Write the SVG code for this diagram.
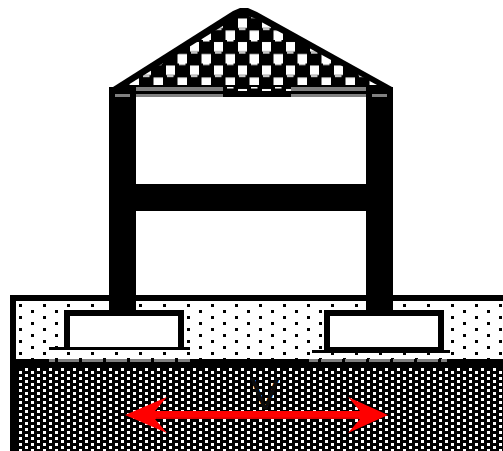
<svg xmlns="http://www.w3.org/2000/svg" width="503" height="451" viewBox="0 0 503 451">
<style>
.k{fill:#000}.g{fill:#808080}.w{fill:#fff}.r{fill:#f00}
</style>
<defs>
<pattern id="sand" patternUnits="userSpaceOnUse" x="19" y="304" width="24" height="12">
<rect width="3" height="3" fill="#000"/><rect x="12" y="6" width="3" height="3" fill="#000"/>
</pattern>
<pattern id="rock" patternUnits="userSpaceOnUse" x="19" y="368" width="12" height="6">
<rect x="6" y="0" width="3" height="3" fill="#fff"/><rect x="0" y="3" width="3" height="3" fill="#fff"/>
</pattern>
<pattern id="roofp" patternUnits="userSpaceOnUse" x="214" y="40" width="24" height="23.5">
<rect width="24" height="23.5" fill="#000"/>
<rect x="-0.500" y="2" width="9.500" height="9.500" fill="#fff"/>
<rect x="11.500" y="14" width="9.500" height="9.500" fill="#fff"/>
<rect x="13" y="0" width="6.500" height="1.500" fill="#fff"/>
<rect x="1" y="12" width="6.500" height="1.500" fill="#fff"/>
</pattern>
</defs>
<g id="ground">
<rect x="10" y="295" width="493" height="156" class="k"/>
<rect x="16" y="301" width="487" height="58" class="w"/>
<rect x="16" y="301" width="487" height="58" fill="url(#sand)"/>
<rect x="16" y="368" width="487" height="83" fill="url(#rock)"/>
<path class="g" d="M49 359h6v3h-6zM58 359h21v3h-21zM82 359h21v3h-21zM106 359h21v3h-21zM130 359h21v3h-21zM154 359h21v3h-21zM178 359h12v3h-12zM309 359h9v3h-9zM321 359h21v3h-21zM345 359h21v3h-21zM369 359h21v3h-21zM393 359h21v3h-21zM417 359h21v3h-21zM441 359h6v3h-6z"/>
</g>
<g id="left-footing">
<rect x="64" y="310" width="120" height="40" class="k"/>
<rect x="70" y="316" width="108" height="31" class="w"/>
<rect x="49" y="347" width="141" height="3" class="k"/>
</g>
<g id="right-footing">
<rect x="324" y="310" width="120" height="40" class="k"/>
<rect x="330" y="316" width="108" height="31" class="w"/>
<rect x="312" y="350" width="138" height="3" class="k"/>
</g>
<g id="frame">
<rect x="109" y="87" width="27" height="225" class="k"/>
<rect x="366" y="87" width="27" height="225" class="k"/>
<rect x="136" y="184" width="230" height="27" class="k"/>
<rect x="115" y="94" width="15" height="3" class="g"/>
<rect x="372" y="94" width="15" height="3" class="g"/>
</g>
<g id="roof">
<polygon points="113,87 233,11 240,8 248,8 257,12 392,87" class="k"/>
<polygon points="128,85 234,19 244,15 254,18 377,85" fill="url(#roofp)"/>
<rect x="136" y="87" width="87" height="10" class="k"/>
<rect x="136" y="87" width="87" height="4" class="g"/>
<rect x="136" y="94" width="87" height="3" class="g"/>
<rect x="291" y="87" width="75" height="10" class="k"/>
<rect x="291" y="87" width="75" height="4" class="g"/>
<rect x="291" y="94" width="75" height="3" class="g"/>
<rect x="223" y="87" width="68" height="10" fill="url(#roofp)"/>
<rect x="223" y="91" width="68" height="6" class="k"/>
</g>
<g id="load">
<text x="250" y="409" font-family="'Liberation Sans', Arial, sans-serif" font-size="45" fill="#0c0c0c">V</text>
<polygon class="r" points="125,415 167,397 155,411 360,411 348,397 388,415 348,433 360,419 155,419 167,433"/>
<rect x="156" y="417.500" width="203" height="1.500" fill="#d80000"/>
</g>
</svg>
